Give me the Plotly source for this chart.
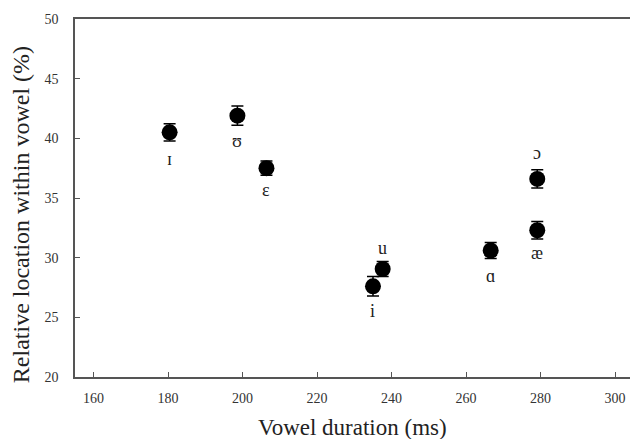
import plotly.graph_objects as go

# Data
vowels = ["ɪ", "ʊ", "ɛ", "i", "u", "ɑ", "æ", "ɔ"]
duration_ms = [180.4, 198.6, 206.4, 235.0, 237.6, 266.6, 279.1, 279.1]
rel_location = [40.5, 41.9, 37.5, 27.6, 29.05, 30.6, 32.3, 36.6]
std_err = [0.73, 0.8, 0.6, 0.82, 0.63, 0.67, 0.74, 0.77]
x_ticks = [160, 180, 200, 220, 240, 260, 280, 300]
y_ticks = [20, 25, 30, 35, 40, 45, 50]

# label placement (pixel shift from point): negative = below
label_shift = [-27, -25, -22, -25, 21, -25, -23, 26]

FONT = "Liberation Serif, Times New Roman, serif"
AX = "#555555"

fig = go.Figure()
fig.add_trace(go.Scatter(
    x=duration_ms, y=rel_location, mode="markers",
    marker=dict(color="black", size=16),
    error_y=dict(type="data", array=std_err, color="black", thickness=1.5, width=6),
    showlegend=False, hoverinfo="skip",
))

for v, x, y, s in zip(vowels, duration_ms, rel_location, label_shift):
    fig.add_annotation(x=x, y=y, text=v, showarrow=False, yshift=s,
                       font=dict(family=FONT, size=18, color="#222"))

fig.add_annotation(xref="paper", yref="paper", x=0.5, y=0, yshift=-50,
                   text="Vowel duration (ms)", showarrow=False, yanchor="middle",
                   font=dict(family=FONT, size=23, color="#222"))
fig.add_annotation(xref="paper", yref="paper", x=-0.097, y=0.4525,
                   text="Relative location within vowel (%)", showarrow=False,
                   textangle=-90, xanchor="center", yanchor="middle",
                   font=dict(family=FONT, size=24, color="#222"))

fig.update_layout(
    width=630, height=439,
    margin=dict(l=75, r=0, t=19, b=62),
    paper_bgcolor="white", plot_bgcolor="white",
    font=dict(family=FONT, color="#333"),
)
fig.update_xaxes(
    range=[155, 304], tickvals=x_ticks, showgrid=False, zeroline=False,
    showline=True, linecolor=AX, linewidth=1.5, mirror=True,
    ticks="inside", ticklen=5, tickcolor=AX, tickwidth=1,
    tickfont=dict(family=FONT, size=14, color="#333"), ticklabelstandoff=7,
)
fig.update_yaxes(
    range=[20, 50], tickvals=y_ticks, showgrid=False, zeroline=False,
    showline=True, linecolor=AX, linewidth=1.5,
    ticks="inside", ticklen=5, tickcolor=AX, tickwidth=1,
    tickfont=dict(family=FONT, size=14, color="#333"), ticklabelstandoff=12,
)

fig.write_html("out.html")
